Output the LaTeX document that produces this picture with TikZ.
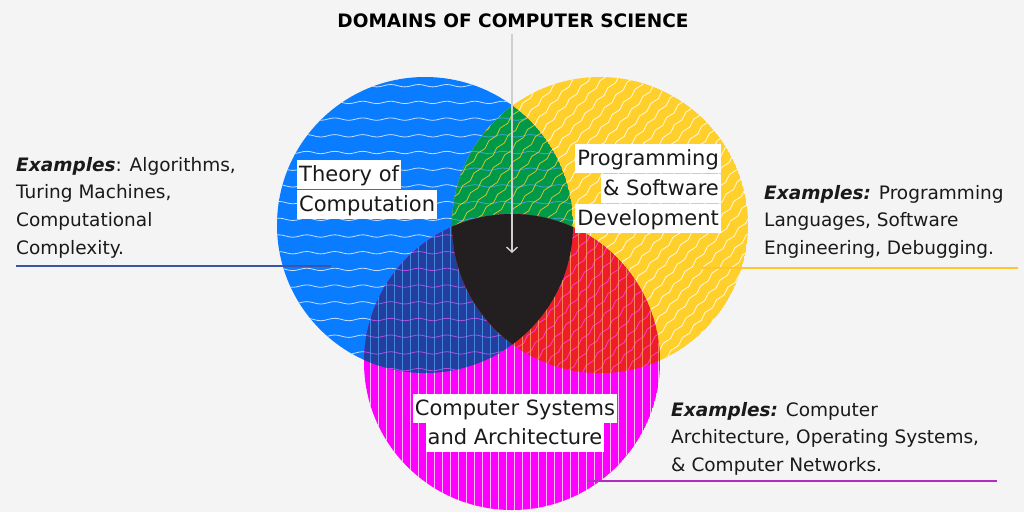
\documentclass[tikz,border=0pt]{standalone}
\usepackage{fontspec}
\setmainfont{DejaVu Sans}
\usetikzlibrary{decorations.pathmorphing,arrows.meta}
\definecolor{bg}{HTML}{F4F4F4}
\definecolor{cblue}{HTML}{0A7CFF}
\definecolor{cyellow}{HTML}{FFD02B}
\definecolor{cmag}{HTML}{FF00FF}
\definecolor{cgreen}{HTML}{00994A}
\definecolor{cnavy}{HTML}{233F9C}
\definecolor{cred}{HTML}{EE1D27}
\definecolor{cblack}{HTML}{231F20}
\definecolor{cline}{HTML}{3A55A8}
\definecolor{cyline}{HTML}{FFC629}
\definecolor{cmline}{HTML}{B52DC0}
\definecolor{carrow}{HTML}{CFCFCF}
\definecolor{ctext}{HTML}{1A1A1A}
\tikzset{
  wave/.style={decorate, decoration={snake, segment length=28pt, amplitude=1.2pt}, line width=0.8pt},
  dwave/.style={decorate, decoration={snake, segment length=17pt, amplitude=1.2pt}, line width=0.8pt},
  vstripe/.style={line width=0.8pt},
  lbl/.style={fill=white, inner xsep=2pt, inner ysep=0pt, text height=21pt, text depth=8pt, font=\fontsize{21}{24}\selectfont, text=ctext},
  ex/.style={align=left, font=\fontsize{18.5}{27.6}\selectfont, text=ctext, inner sep=0pt, anchor=north west},
  rule/.style={line width=1.6pt},
}
\newcommand\patH[1]{\foreach \yy in {69,85.7,...,390}{\draw[wave,#1] (270,\yy) -- (590,\yy);}}
\newcommand\patD[1]{\begin{scope}[shift={(600,225)},rotate=48]\foreach \t in {-159,-148.4,...,160}{\draw[dwave,#1] (-170,\t) -- (170,\t);}\end{scope}}
\newcommand\patV[1]{\foreach \xx in {362,370,...,662}{\draw[vstripe,#1] (\xx,205) -- (\xx,515);}}
\newcommand\cB{(425,225) circle[radius=148]}
\newcommand\cY{(600,225) circle[radius=148]}
\newcommand\cM{(512,362) circle[radius=148]}
\begin{document}
\begin{tikzpicture}[x=1pt,y=-1pt]
\fill[bg] (0,0) rectangle (1024,512);
\useasboundingbox (0,0) rectangle (1024,512);
% blue
\begin{scope}
  \clip \cB;
  \fill[cblue] \cB;
  \patH{white!75!cblue}
\end{scope}
% yellow
\begin{scope}
  \clip \cY;
  \fill[cyellow] \cY;
  \patD{white!85!cyellow}
\end{scope}
% magenta
\begin{scope}
  \clip \cM;
  \fill[cmag] \cM;
  \patV{white!75!cmag}
\end{scope}
% green lens
\begin{scope}
  \clip \cB; \clip \cY;
  \fill[cgreen] \cB;
  \patH{cblue!70!white, opacity=0.8}
  \patD{cyellow, opacity=0.8}
\end{scope}
% navy lens
\begin{scope}
  \clip \cB; \clip \cM;
  \fill[cnavy] \cB;
  \patH{cmag!70!white, opacity=0.7}
  \patV{cblue!70!white, opacity=0.7}
\end{scope}
% red lens
\begin{scope}
  \clip \cY; \clip \cM;
  \fill[cred] \cY;
  \patD{cmag!70!white, opacity=0.8}
  \patV{orange!60!white, opacity=0.7}
\end{scope}
% centre
\begin{scope}
  \clip \cB; \clip \cY;
  \fill[cblack] \cM;
\end{scope}
% title and arrow
\node[font=\bfseries\fontsize{18.5}{22}\selectfont, text=black] (title) at (513,21) {DOMAINS OF COMPUTER SCIENCE};
\coordinate (atop) at (512,34);
\coordinate (abot) at (512,253);
\draw[carrow, line width=1.4pt, -{Straight Barb[length=5pt,width=11pt]}] (atop) -- (abot);
% circle labels
\node[lbl, anchor=north west] (t1) at (297,160) {Theory of};
\node[lbl, anchor=north west] (t2) at (297,190) {Computation};
\node[lbl, anchor=north east] (p1) at (721,144) {Programming};
\node[lbl, anchor=north east] (p2) at (721,174) {\&~Software};
\node[lbl, anchor=north east] (p3) at (721,204) {Development};
\node[lbl, anchor=north] (s1) at (515,394) {Computer Systems};
\node[lbl, anchor=north] (s2) at (515,423) {and Architecture};
% examples
\node[ex] (exL) at (16,157) {\textbf{\textit{Examples}}: Algorithms,\\Turing Machines,\\Computational\\Complexity.};
\node[ex] (exY) at (764,185) {\textbf{\textit{Examples:}} Programming\\Languages, Software\\Engineering, Debugging.};
\node[ex] (exM) at (671,402) {\textbf{\textit{Examples:}} Computer\\Architecture, Operating Systems,\\\& Computer Networks.};
% rules
\coordinate (l1a) at (16,266); \coordinate (l1b) at (331,266);
\coordinate (l2a) at (702,268); \coordinate (l2b) at (1018,268);
\coordinate (l3a) at (588,481); \coordinate (l3b) at (997,481);
\draw[rule, cline] (l1a) -- (l1b);
\draw[rule, cyline] (l2a) -- (l2b);
\draw[rule, cmline] (l3a) -- (l3b);
\end{tikzpicture}
\end{document}
